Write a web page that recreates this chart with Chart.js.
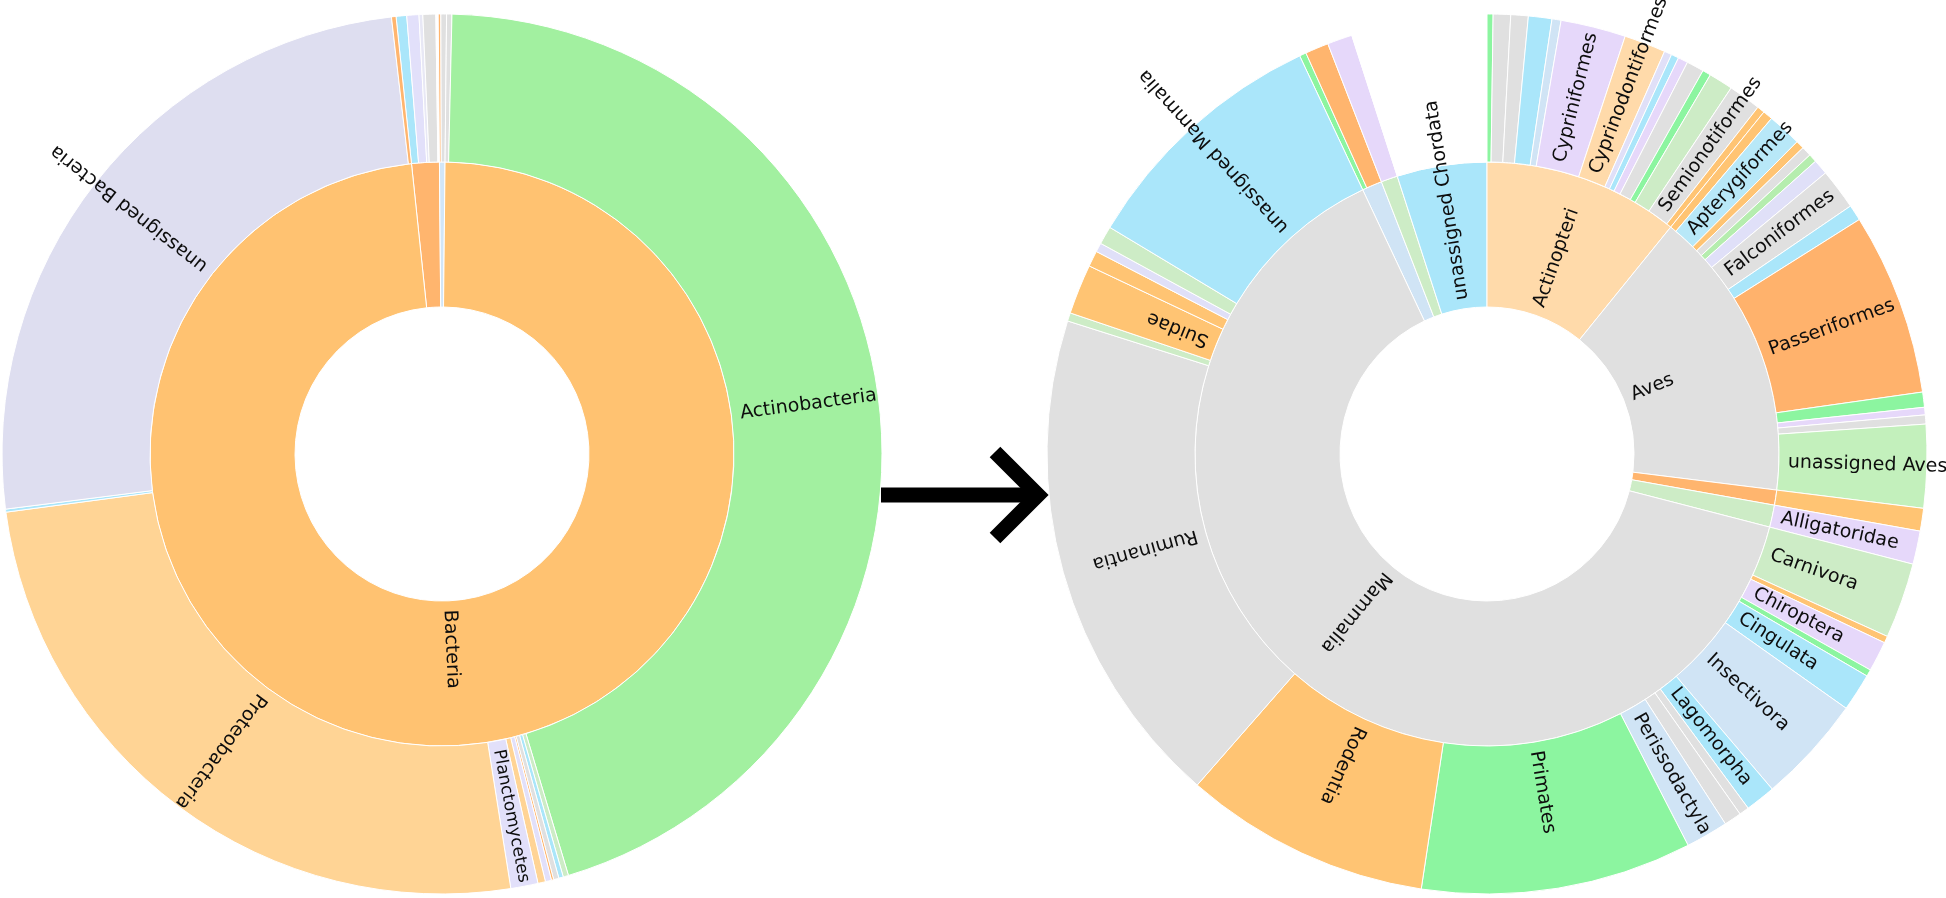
<!DOCTYPE html>
<html><head><meta charset="utf-8">
<script src="https://cdn.jsdelivr.net/npm/chart.js@4/dist/chart.umd.min.js"></script>
<style>
html,body{margin:0;padding:0;background:#fff;width:1946px;height:898px;overflow:hidden}
.c{position:absolute;left:0;top:0;width:1946px;height:898px}
</style></head><body>
<div class="c"><canvas id="left" width="1946" height="898"></canvas></div>
<div class="c"><canvas id="right" width="1946" height="898"></canvas></div>
<script>
// ---------- LEFT sunburst (kingdom -> phylum), sector sizes in degrees ----------
const leftInnerLabels = ['', '', 'Bacteria'];
const leftInnerValues = [5.5, 1.1, 353.4];
const leftInnerColors = ['#FFB56E', '#D2E6F7', '#FFC271'];

const leftOuterParents = [0, 0, 0, 0, 1, 1, 2, 2, 2, 2, 2, 2, 2, 2, 2, 2, 2, 2, 2];
const leftOuterLabels = ['', '', '', '', '', '', '', 'Actinobacteria', '', '', '', '', '', '',
  'Planctomycetes', 'Proteobacteria', '', 'unassigned Bacteria', ''];
const leftOuterValues = [1.4, 1.6, 0.5, 1.7, 0.35, 0.75, 0.7, 162.0, 0.7, 0.6, 0.7, 0.3, 0.8, 1.0,
  3.6, 91.4, 0.4, 90.6, 0.6];
const leftOuterColors = ['#AAE6FA', '#E2E0FA', '#E8E8F5', '#E0E0E0', '#FFB56E', '#E0E0E0',
  '#E0E0E0', '#A2F0A0', '#CDECC6', '#AAE6FA', '#E0E0E0', '#FFB56E', '#E2E0FA', '#FFD495',
  '#E2E0FA', '#FFD495', '#AAE6FA', '#DEDEF0', '#FFB56E'];

// ---------- RIGHT sunburst (class -> order) ----------
const rightInnerLabels = ['', '', 'unassigned Chordata', 'Actinopteri', 'Aves', '', '', 'Mammalia'];
const rightInnerValues = [4.0, 3.3, 17.9, 39.0, 58.1, 3.0, 4.4, 230.3];
const rightInnerColors = ['#D0E4F5', '#CDECC6', '#AAE6FA', '#FFDAAA', '#E0E0E0', '#FFB56E', '#CDECC6', '#E0E0E0'];

const rightOuterParents = [
  0, 0,
  1,
  3, 3, 3, 3, 3, 3, 3, 3, 3, 3, 3, 3, 3, 3, 3,
  4, 4, 4, 4, 4, 4, 4, 4, 4, 4, 4, 4, 4,
  5,
  6,
  7, 7, 7, 7, 7, 7, 7, 7, 7, 7, 7, 7, 7, 7, 7, 7, 7, 7, 7];
const rightOuterLabels = [
  '', '',
  '',
  '', '', '', '', '', 'Cypriniformes', 'Cyprinodontiformes', '', '', '', '', '', '', 'Semionotiformes', '',
  '', 'Apterygiformes', '', '', '', '', 'Falconiformes', '', 'Passeriformes', '', '', '', 'unassigned Aves',
  '',
  'Alligatoridae',
  'Carnivora', '', 'Chiroptera', '', 'Cingulata', 'Insectivora', 'Lagomorpha', '', '', 'Perissodactyla',
  'Primates', 'Rodentia', 'Ruminantia', '', 'Suidae', '', '', '', 'unassigned Mammalia'];
const rightOuterValues = [
  0.9, 3.1,
  3.3,
  0.8, 2.3, 2.3, 3.1, 1.2, 8.6, 5.5, 1.0, 1.0, 1.3, 2.3, 1.1, 3.2, 4.3, 1.0,
  1.3, 4.5, 1.1, 1.3, 1.1, 2.0, 5.4, 2.1, 24.1, 2.0, 1.0, 1.2, 11.0,
  3.0,
  4.4,
  10.0, 0.9, 4.0, 0.9, 5.0, 14.3, 4.0, 1.3, 2.3, 5.6, 35.8, 32.6, 66.4, 1.1, 6.6, 2.1, 1.2, 2.4, 33.8];
const rightOuterColors = [
  '#8CF5A0', '#FFB56E',
  '#E6D8FA',
  '#8CF5A0', '#E0E0E0', '#E0E0E0', '#AAE6FA', '#D0E4F5', '#E6D8FA', '#FFDAAA', '#E0E0F8', '#AAE6FA',
  '#E6D8FA', '#E0E0E0', '#8CF5A0', '#CDECC6', '#E0E0E0', '#FFC473',
  '#FFC473', '#B8E8F8', '#FFC473', '#E0E0E0', '#B5EDAE', '#E0E0F8', '#E0E0E0', '#AAE6FA', '#FFB26C',
  '#8CF5A0', '#E6D8FA', '#E0E0E0', '#C3F0BC',
  '#FFC473',
  '#E6D8FA',
  '#CDECC6', '#FFC473', '#E6D8FA', '#8CF5A0', '#AAE6FA', '#D0E4F5', '#AAE6FA', '#E0E0E0', '#E0E0E0',
  '#D0E4F5', '#8CF5A0', '#FFC473', '#E0E0E0', '#CDECC6', '#FFC473', '#FFC473', '#E0E0F8', '#CDECC6', '#AAE6FA'];

// start angle (degrees clockwise from 12 o'clock) of the first inner sector
const leftStart = -6.0;
const rightStart = -25.2;

// ---------- helpers ----------
function buildOuter(innerValues, parents, labels, values, colors) {
  const out = {v: [], c: [], t: []};
  innerValues.forEach((pv, p) => {
    let sum = 0;
    parents.forEach((par, i) => {
      if (par === p) { out.v.push(values[i]); out.c.push(colors[i]); out.t.push(labels[i]); sum += values[i]; }
    });
    const rest = pv - sum;
    if (rest > 1e-6) { out.v.push(rest); out.c.push('rgba(255,255,255,0)'); out.t.push(''); }
  });
  return out;
}

const HOLE = 147, R_OUT = 440, W_INNER = 145, W_OUTER = 148;
const FONT_MAX = 19;

const labelPlugin = {
  id: 'sunLabels',
  afterDatasetsDraw(chart) {
    const ctx = chart.ctx;
    chart.data.datasets.forEach((ds, di) => {
      const meta = chart.getDatasetMeta(di);
      meta.data.forEach((arc, i) => {
        const txt = ds.texts[i];
        if (!txt) return;
        const p = arc.getProps(['x', 'y', 'startAngle', 'endAngle', 'innerRadius', 'outerRadius'], true);
        const mid = (p.startAngle + p.endAngle) / 2;
        const r0 = p.innerRadius + 9;
        const size = Math.min(FONT_MAX, (p.endAngle - p.startAngle) * r0 * 0.9);
        ctx.save();
        ctx.translate(p.x, p.y);
        ctx.rotate(mid);
        ctx.font = size.toFixed(2) + 'px "DejaVu Sans"';
        ctx.fillStyle = '#0d0d0d';
        ctx.textAlign = 'left';
        ctx.textBaseline = 'middle';
        ctx.fillText(txt, r0, 0);
        ctx.restore();
      });
    });
  }
};

const arrowPlugin = {
  id: 'arrow',
  afterDraw(chart) {
    const ctx = chart.ctx;
    ctx.save();
    ctx.strokeStyle = '#000';
    ctx.lineWidth = 15;
    ctx.lineCap = 'butt';
    ctx.lineJoin = 'miter';
    ctx.beginPath();
    ctx.moveTo(881, 495);
    ctx.lineTo(1032, 495);
    ctx.stroke();
    ctx.beginPath();
    ctx.moveTo(995, 452);
    ctx.lineTo(1038, 495);
    ctx.lineTo(995, 538);
    ctx.stroke();
    ctx.restore();
  }
};

function makeSunburst(id, start, padding, inner, outer, extraPlugins) {
  return new Chart(document.getElementById(id), {
    type: 'doughnut',
    data: {
      labels: outer.t,
      datasets: [
        {data: outer.v, backgroundColor: outer.c, borderColor: '#ffffff', borderWidth: 1, weight: W_OUTER, texts: outer.t},
        {data: inner.v, backgroundColor: inner.c, borderColor: '#ffffff', borderWidth: 1, weight: W_INNER, texts: inner.t}
      ]
    },
    options: {
      responsive: false,
      animation: false,
      events: [],
      rotation: start,
      radius: R_OUT,
      cutout: (HOLE / R_OUT * 100) + '%',
      layout: {padding: padding},
      plugins: {legend: {display: false}, tooltip: {enabled: false}}
    },
    plugins: [labelPlugin].concat(extraPlugins)
  });
}

const leftOuter = buildOuter(leftInnerValues, leftOuterParents, leftOuterLabels, leftOuterValues, leftOuterColors);
const rightOuter = buildOuter(rightInnerValues, rightOuterParents, rightOuterLabels, rightOuterValues, rightOuterColors);

makeSunburst('left', leftStart, {left: 0, right: 1062, top: 10, bottom: 0},
  {v: leftInnerValues, c: leftInnerColors, t: leftInnerLabels}, leftOuter, []);
makeSunburst('right', rightStart, {left: 1028, right: 0, top: 10, bottom: 0},
  {v: rightInnerValues, c: rightInnerColors, t: rightInnerLabels}, rightOuter, [arrowPlugin]);
</script>
</body></html>
